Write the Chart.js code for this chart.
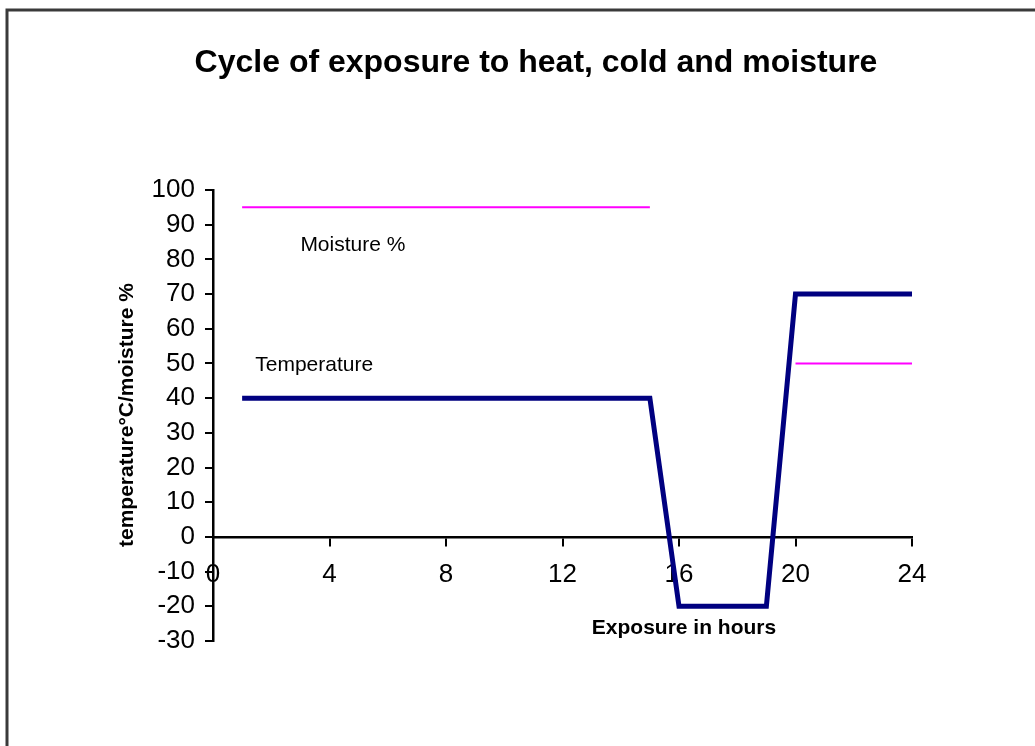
<!DOCTYPE html>
<html>
<head>
<meta charset="utf-8">
<title>Cycle of exposure to heat, cold and moisture</title>
<script src="https://cdn.jsdelivr.net/npm/chart.js@4"></script>
<style>
  html, body { margin: 0; padding: 0; background: #fff; }
  canvas { display: block; }
</style>
</head>
<body>
<canvas id="chart" width="1035" height="746"></canvas>
<script>
// data
const tempHours = [1, 15, 16, 19, 20, 23, 24];
const tempValues = [40, 40, -20, -20, 70, 70, 70];

const moistHours = [1, 15, 17.5, 20, 24];
const moistValues = [95, 95, null, 50, 50];

const xTicks = [0, 4, 8, 12, 16, 20, 24];
const yTicks = [-30, -20, -10, 0, 10, 20, 30, 40, 50, 60, 70, 80, 90, 100];

// in-chart labels, in data units (hours, value)
const seriesLabels = [
  { text: 'Moisture %', x: 3.0, y: 82.4 },
  { text: 'Temperature', x: 1.45, y: 47.8 }
];

const FONT = '"Liberation Sans", Arial, sans-serif';

function toPoints(xs, ys) {
  return xs.map((x, i) => ({ x: x, y: ys[i] }));
}

const decorations = {
  id: 'decorations',
  afterDraw(chart) {
    const ctx = chart.ctx;
    const xs = chart.scales.x;
    const ys = chart.scales.y;
    ctx.save();

    // frame
    ctx.strokeStyle = '#3a3a3a';
    ctx.lineWidth = 3;
    ctx.beginPath();
    ctx.moveTo(7, 760);
    ctx.lineTo(7, 10);
    ctx.lineTo(1040, 10);
    ctx.stroke();

    ctx.fillStyle = '#000';

    // title
    ctx.font = 'bold 32px ' + FONT;
    ctx.textAlign = 'center';
    ctx.textBaseline = 'alphabetic';
    ctx.fillText('Cycle of exposure to heat, cold and moisture', 536, 72);

    // x axis title
    ctx.font = 'bold 21px ' + FONT;
    ctx.fillText('Exposure in hours', 684, 634);

    // y axis title
    ctx.save();
    ctx.translate(133, 415);
    ctx.rotate(-Math.PI / 2);
    ctx.fillText('temperature°C/moisture %', 0, 0);
    ctx.restore();

    // series labels
    ctx.font = '21px ' + FONT;
    ctx.textAlign = 'left';
    seriesLabels.forEach(l => {
      ctx.fillText(l.text, xs.getPixelForValue(l.x), ys.getPixelForValue(l.y));
    });

    ctx.restore();
  }
};

new Chart(document.getElementById('chart'), {
  type: 'line',
  data: {
    datasets: [
      {
        label: 'Temperature',
        data: toPoints(tempHours, tempValues),
        borderColor: '#000080',
        borderWidth: 5,
        borderJoinStyle: 'miter',
        pointRadius: 0,
        tension: 0,
        fill: false
      },
      {
        label: 'Moisture %',
        data: toPoints(moistHours, moistValues),
        borderColor: '#ff00ff',
        borderWidth: 2,
        pointRadius: 0,
        tension: 0,
        spanGaps: false,
        fill: false
      }
    ]
  },
  options: {
    responsive: false,
    animation: false,
    devicePixelRatio: 1,
    layout: {
      padding: { left: 143, top: 190, right: 123, bottom: 105 }
    },
    plugins: {
      legend: { display: false },
      tooltip: { enabled: false },
      title: { display: false }
    },
    scales: {
      x: {
        type: 'linear',
        min: 0,
        max: 24,
        position: { y: 0 },
        afterBuildTicks: s => { s.ticks = xTicks.map(v => ({ value: v })); },
        ticks: {
          color: '#000',
          padding: 14,
          font: { family: FONT, size: 26 }
        },
        grid: {
          drawOnChartArea: false,
          drawTicks: true,
          tickLength: 8,
          color: '#000',
          lineWidth: 2
        },
        border: { display: true, color: '#000', width: 2.5 }
      },
      y: {
        type: 'linear',
        min: -30,
        max: 100,
        position: 'left',
        afterBuildTicks: s => { s.ticks = yTicks.map(v => ({ value: v })); },
        afterFit: s => { s.width = 70; },
        ticks: {
          color: '#000',
          padding: 10,
          font: { family: FONT, size: 26 }
        },
        grid: {
          drawOnChartArea: false,
          drawTicks: true,
          tickLength: 8,
          color: '#000',
          lineWidth: 2
        },
        border: { display: true, color: '#000', width: 2.5 }
      }
    }
  },
  plugins: [decorations]
});
</script>
</body>
</html>
